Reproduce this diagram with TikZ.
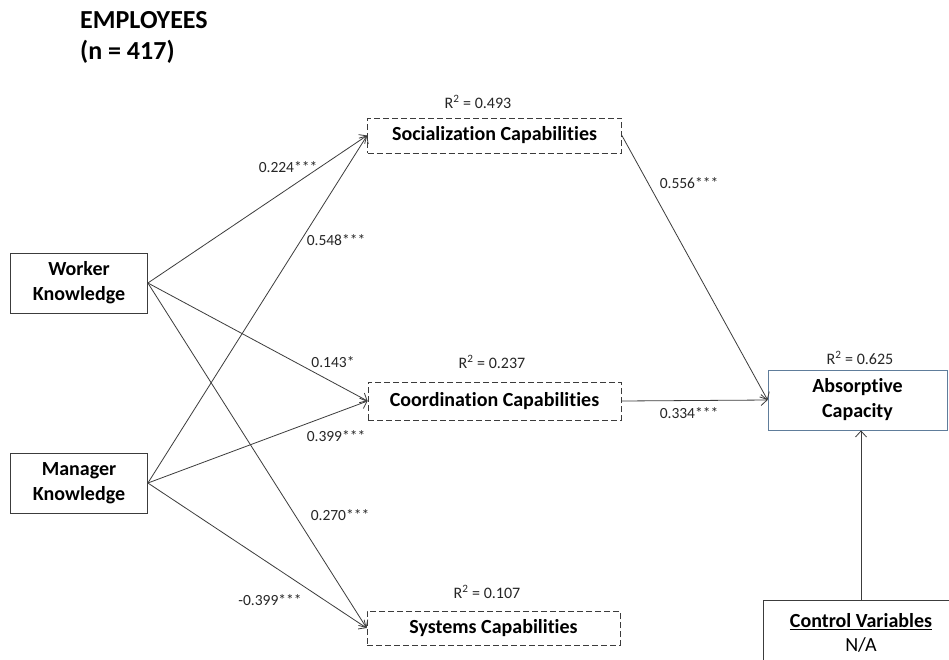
\documentclass[tikz,border=0pt]{standalone}
\usepackage{fontspec}
\setmainfont{Carlito}[Ligatures={NoCommon}]
\usetikzlibrary{arrows.meta}
\definecolor{lineg}{RGB}{60,60,60}
\definecolor{absb}{RGB}{96,125,155}
\tikzset{
  box/.style={draw=lineg, line width=0.8pt, rectangle, inner sep=0pt, align=center, font=\fontsize{20}{25}\selectfont\bfseries},
  dbox/.style={box, dash pattern=on 6pt off 3pt},
  lab/.style={font=\fontsize{15.5}{18}\selectfont, inner sep=0pt, text=black!85},
  rlab/.style={font=\fontsize{16}{19}\selectfont, inner sep=0pt, text=black!85},
  conn/.style={draw=lineg, line width=0.8pt, -{Straight Barb[length=6pt,width=11pt]}},
}
\begin{document}
\begin{tikzpicture}[x=1pt,y=-1pt]
\useasboundingbox (0,0) rectangle (949,659);
\fill[white] (0,0) rectangle (949,659);
\node[anchor=base west, inner sep=0pt, font=\fontsize{26}{30}\selectfont\bfseries] (t1) at (80,28) {EMPLOYEES};
\node[anchor=base west, inner sep=0pt, font=\fontsize{26}{30}\selectfont\bfseries] (t2) at (80,59) {(n = 417)};

\node[box, minimum width=137pt, minimum height=60pt] (worker) at (79,283) {Worker\\Knowledge};
\node[box, minimum width=137pt, minimum height=60pt] (manager) at (79,483) {Manager\\Knowledge};
\node[dbox, minimum width=254pt, minimum height=35pt] (soc) at (494.5,135.5) {Socialization Capabilities};
\node[dbox, minimum width=253pt, minimum height=38pt] (coord) at (494.5,401) {Coordination Capabilities};
\node[dbox, minimum width=253pt, minimum height=34pt] (sys) at (493.5,628) {Systems Capabilities};
\node[box, draw=absb, minimum width=179pt, minimum height=60pt] (abs) at (857.5,400) {Absorptive\\Capacity};

\begin{scope}
\clip (0,0) rectangle (949,659);
\draw[draw=lineg, line width=0.8pt] (763,600) rectangle (960,670);
\end{scope}
\coordinate (ctrltop) at (861,600);
\node[inner sep=0pt, font=\fontsize{20}{24}\selectfont\bfseries] (ctrl) at (861,622) {\underline{Control Variables}};
\node[inner sep=0pt, font=\fontsize{20}{24}\selectfont] (na) at (861,645) {N/A};

\node[rlab] (r1) at (478,102) {R\textsuperscript{2} = 0.493};
\node[rlab] (r2) at (492,362) {R\textsuperscript{2} = 0.237};
\node[rlab] (r3) at (487,592) {R\textsuperscript{2} = 0.107};
\node[rlab] (r4) at (860,358) {R\textsuperscript{2} = 0.625};

\draw[conn] (worker.east) -- (soc.west);
\draw[conn] (worker.east) -- (coord.west);
\draw[conn] (worker.east) -- (sys.west);
\draw[conn] (manager.east) -- (soc.west);
\draw[conn] (manager.east) -- (coord.west);
\draw[conn] (manager.east) -- (sys.west);
\draw[conn] (soc.east) -- (abs.west);
\draw[conn] (coord.east) -- (abs.west);
\draw[conn] (ctrltop) -- (abs.south -| ctrltop);

\node[lab] (l1) at (288,167) {0.224***};
\node[lab] (l2) at (336,240) {0.548***};
\node[lab] (l3) at (333,362) {0.143*};
\node[lab] (l4) at (336,436) {0.399***};
\node[lab] (l5) at (340,515) {0.270***};
\node[lab] (l6) at (270,600) {-0.399***};
\node[lab] (l7) at (689,183) {0.556***};
\node[lab] (l8) at (689,413) {0.334***};
\end{tikzpicture}
\end{document}
